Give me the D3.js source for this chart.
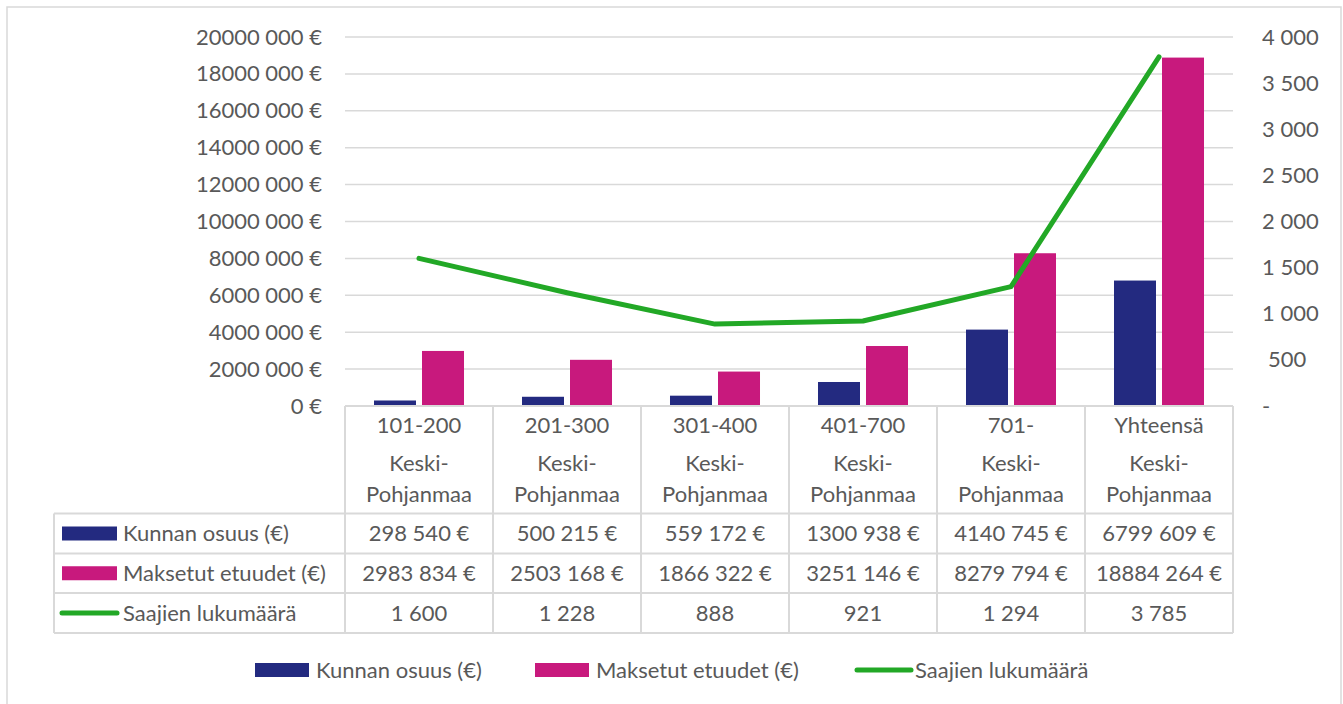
<!DOCTYPE html>
<html>
<head>
<meta charset="utf-8">
<script src="https://cdnjs.cloudflare.com/ajax/libs/d3/7.8.5/d3.min.js"></script>
<style>
  body { margin: 0; background: #fff; }
  svg text { font-family: Lato, "Open Sans", sans-serif; fill: #595959; }
</style>
</head>
<body>
<div id="chart"></div>
<script>
// Chart data
const categories = ['101-200', '201-300', '301-400', '401-700', '701-', 'Yhteensä'];
const region = ['Keski-', 'Pohjanmaa'];
const seriesNames = ['Kunnan osuus (€)', 'Maksetut etuudet (€)', 'Saajien lukumäärä'];
const kunnanOsuus = [298540, 500215, 559172, 1300938, 4140745, 6799609];
const maksetutEtuudet = [2983834, 2503168, 1866322, 3251146, 8279794, 18884264];
const saajienLukumaara = [1600, 1228, 888, 921, 1294, 3785];
const leftTicks = [0, 2000000, 4000000, 6000000, 8000000, 10000000, 12000000, 14000000, 16000000, 18000000, 20000000];
const rightTicks = [0, 500, 1000, 1500, 2000, 2500, 3000, 3500, 4000];

const colors = ['#232A80', '#C8197D', '#22A826'];

function euro(v) {
    if (v === 0) return '0 €';
    const th = Math.floor(v / 1000);
    const rest = String(v % 1000).padStart(3, '0');
    return (th > 0 ? th + ' ' + rest : String(v % 1000)) + ' €';
}
function count(v) {
    if (v === 0) return '-';
    const th = Math.floor(v / 1000);
    if (th === 0) return String(v);
    return th + ' ' + String(v % 1000).padStart(3, '0');
}

const width = 1343, height = 704;
const plot = {left: 345, right: 1233, top: 37, bottom: 406};
const rowY = [513.5, 553.5, 593, 633];
const tableLeft = 54;
const fs = 22;

const svg = d3.select('#chart').append('svg')
    .attr('width', width)
    .attr('height', height);

// outer border
svg.append('rect')
    .attr('x', 7).attr('y', 7)
    .attr('width', 1334).attr('height', 720)
    .attr('fill', 'none')
    .attr('stroke', '#d9d9d9')
    .attr('stroke-width', 1.5);

const x = d3.scaleBand().domain(categories).range([plot.left, plot.right]);
const xs = d3.scaleBand().domain([0, 1]).range([0, x.bandwidth()])
    .paddingInner(0.125).paddingOuter(0.604);
const yL = d3.scaleLinear().domain([0, 20000000]).range([plot.bottom, plot.top]);
const yR = d3.scaleLinear().domain([0, 4000]).range([plot.bottom, plot.top]);

// gridlines
svg.append('g').selectAll('line')
    .data(leftTicks.slice(1))
    .enter().append('line')
    .attr('x1', plot.left).attr('x2', plot.right)
    .attr('y1', d => yL(d)).attr('y2', d => yL(d))
    .attr('stroke', '#d9d9d9')
    .attr('stroke-width', 1.5);

// axes
const gL = svg.append('g')
    .attr('transform', `translate(${plot.left},0)`)
    .call(d3.axisLeft(yL).tickValues(leftTicks).tickFormat(euro).tickSize(0).tickPadding(23));
const gR = svg.append('g')
    .attr('transform', `translate(${plot.right},0)`)
    .call(d3.axisRight(yR).tickValues(rightTicks).tickFormat(count).tickSize(0).tickPadding(29));
[gL, gR].forEach(g => {
    g.select('.domain').remove();
    g.selectAll('text')
        .style('font-family', 'Lato, sans-serif')
        .style('font-size', fs + 'px')
        .attr('fill', '#595959');
});
gR.selectAll('text').filter(d => d === 500).attr('dx', 6);

// bars
const barSeries = [kunnanOsuus, maksetutEtuudet];
barSeries.forEach((vals, si) => {
    svg.append('g').selectAll('rect')
        .data(vals)
        .enter().append('rect')
        .attr('x', (d, i) => x(categories[i]) + xs(si))
        .attr('width', xs.bandwidth())
        .attr('y', d => yL(d))
        .attr('height', d => plot.bottom - yL(d))
        .attr('fill', colors[si]);
});

// line
const line = d3.line()
    .x((d, i) => x(categories[i]) + x.bandwidth() / 2)
    .y(d => yR(d));
svg.append('path')
    .datum(saajienLukumaara)
    .attr('d', line)
    .attr('fill', 'none')
    .attr('stroke', colors[2])
    .attr('stroke-width', 5)
    .attr('stroke-linecap', 'round')
    .attr('stroke-linejoin', 'round');

// data table
const tbl = svg.append('g');
const border = '#d9d9d9';
tbl.append('line')
    .attr('x1', plot.left).attr('x2', plot.right)
    .attr('y1', plot.bottom).attr('y2', plot.bottom)
    .attr('stroke', border).attr('stroke-width', 2);
rowY.forEach(y => {
    tbl.append('line')
        .attr('x1', tableLeft).attr('x2', plot.right)
        .attr('y1', y).attr('y2', y)
        .attr('stroke', border).attr('stroke-width', 2);
});
tbl.append('line')
    .attr('x1', tableLeft).attr('x2', tableLeft)
    .attr('y1', rowY[0]).attr('y2', rowY[3])
    .attr('stroke', border).attr('stroke-width', 2);
categories.concat([null]).forEach((c, i) => {
    const xx = c === null ? plot.right : x(c);
    tbl.append('line')
        .attr('x1', xx).attr('x2', xx)
        .attr('y1', plot.bottom).attr('y2', rowY[3])
        .attr('stroke', border).attr('stroke-width', 2);
});

// header texts
const headY = [425, 463, 494];
categories.forEach(c => {
    [c, region[0], region[1]].forEach((t, k) => {
        tbl.append('text')
            .attr('x', x(c) + x.bandwidth() / 2)
            .attr('y', headY[k])
            .attr('dy', '0.35em')
            .attr('text-anchor', 'middle')
            .style('font-size', fs + 'px')
            .text(t);
    });
});

// row values
const rows = [kunnanOsuus.map(euro), maksetutEtuudet.map(euro), saajienLukumaara.map(count)];
rows.forEach((vals, r) => {
    const cy = (rowY[r] + rowY[r + 1]) / 2;
    vals.forEach((v, i) => {
        tbl.append('text')
            .attr('x', x(categories[i]) + x.bandwidth() / 2)
            .attr('y', cy)
            .attr('dy', '0.35em')
            .attr('text-anchor', 'middle')
            .style('font-size', fs + 'px')
            .text(v);
    });
    // row legend key
    if (r < 2) {
        tbl.append('rect')
            .attr('x', 62).attr('y', cy - 7)
            .attr('width', 55).attr('height', 14)
            .attr('fill', colors[r]);
    } else {
        tbl.append('line')
            .attr('x1', 62).attr('x2', 117)
            .attr('y1', cy).attr('y2', cy)
            .attr('stroke', colors[r])
            .attr('stroke-width', 5)
            .attr('stroke-linecap', 'round');
    }
    tbl.append('text')
        .attr('x', 123)
        .attr('y', cy)
        .attr('dy', '0.35em')
        .style('font-size', fs + 'px')
        .text(seriesNames[r]);
});

// bottom legend
const legendY = 670;
const legendX = [255, 535, 855];
seriesNames.forEach((name, i) => {
    const g = svg.append('g').attr('transform', `translate(${legendX[i]},${legendY})`);
    if (i < 2) {
        g.append('rect')
            .attr('x', 0).attr('y', -7)
            .attr('width', 54).attr('height', 14)
            .attr('fill', colors[i]);
    } else {
        g.append('line')
            .attr('x1', 2).attr('x2', 56)
            .attr('stroke', colors[i])
            .attr('stroke-width', 5)
            .attr('stroke-linecap', 'round');
    }
    g.append('text')
        .attr('x', i < 2 ? 61 : 60)
        .attr('dy', '0.35em')
        .style('font-size', fs + 'px')
        .text(name);
});
</script>
</body>
</html>
